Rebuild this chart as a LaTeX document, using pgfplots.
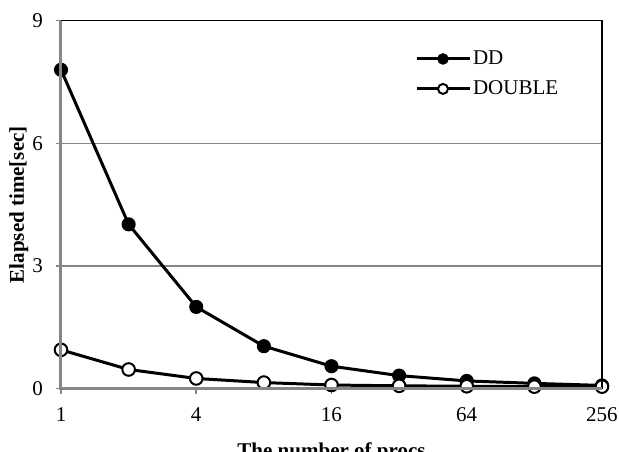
\documentclass[border=0pt]{standalone}
\usepackage{fontspec}
\setmainfont{Liberation Serif}
\usepackage{pgfplots}
\pgfplotsset{compat=1.18}
\definecolor{gridgray}{RGB}{134,134,134}
\begin{document}
\fontsize{21pt}{25pt}\selectfont
\begin{tikzpicture}[x=1pt,y=1pt]
\useasboundingbox (0,0) rectangle (619,452);
\begin{axis}[
  at={(61pt,63.3pt)}, anchor=south west,
  scale only axis, width=541pt, height=368pt,
  xmin=0, xmax=8, ymin=0, ymax=9,
  xtick={0,2,4,6,8}, xticklabels={1,4,16,64,256},
  ytick={0,3,6,9},
  ymajorgrids, grid style={gridgray, line width=1.5pt},
  axis line style={draw=none},
  tick align=outside, major tick length=5pt,
  tick style={gridgray, line width=1.5pt},
  xtick pos=bottom, ytick pos=left,
  /pgf/number format/assume math mode=true,
  ticklabel style={font=\fontsize{21pt}{25pt}\selectfont},
  yticklabel style={xshift=-6pt},
  xticklabel style={yshift=-7pt},
  xlabel={\textbf{The number of procs}},
  ylabel={\textbf{Elapsed time[sec]}},
  label style={font=\fontsize{21pt}{25pt}\selectfont},
  xlabel style={at={(0.5,0)}, anchor=base, yshift=-69pt},
  ylabel style={at={(0,0.5)}, anchor=base, yshift=37pt},
  legend cell align=left,
  legend style={draw=none, fill=none, at={(0.654,0.925)}, anchor=north west,
    inner sep=0pt, row sep=9pt, font=\fontsize{21pt}{25pt}\selectfont,
    /tikz/every even column/.append style={column sep=0pt}},
  legend image code/.code={
    \draw[#1, mark=none] (0pt,0pt) -- (53pt,0pt);
    \draw[#1, only marks, mark size=5pt] plot coordinates {(26.5pt,0pt)};
  },
  after end axis/.code={
    \draw[black, line width=1.5pt] (rel axis cs:0,1) -- (rel axis cs:1,1) -- (rel axis cs:1,0);
    \draw[gridgray, line width=3pt] (rel axis cs:0,1) -- (rel axis cs:0,0) -- (rel axis cs:1,0);
  },
]
\addplot[black, line width=3pt, mark=*, mark size=6.3pt, mark options={fill=black, line width=1.5pt}]
  coordinates {(0,7.80) (1,4.02) (2,2.00) (3,1.04) (4,0.55) (5,0.32) (6,0.19) (7,0.13) (8,0.08)};
\addlegendentry{DD}
\addplot[black, line width=3pt, mark=*, mark size=6.3pt, mark options={fill=white, line width=2pt}]
  coordinates {(0,0.95) (1,0.47) (2,0.25) (3,0.15) (4,0.09) (5,0.07) (6,0.06) (7,0.05) (8,0.05)};
\addlegendentry{DOUBLE}
\end{axis}
\end{tikzpicture}
\end{document}
